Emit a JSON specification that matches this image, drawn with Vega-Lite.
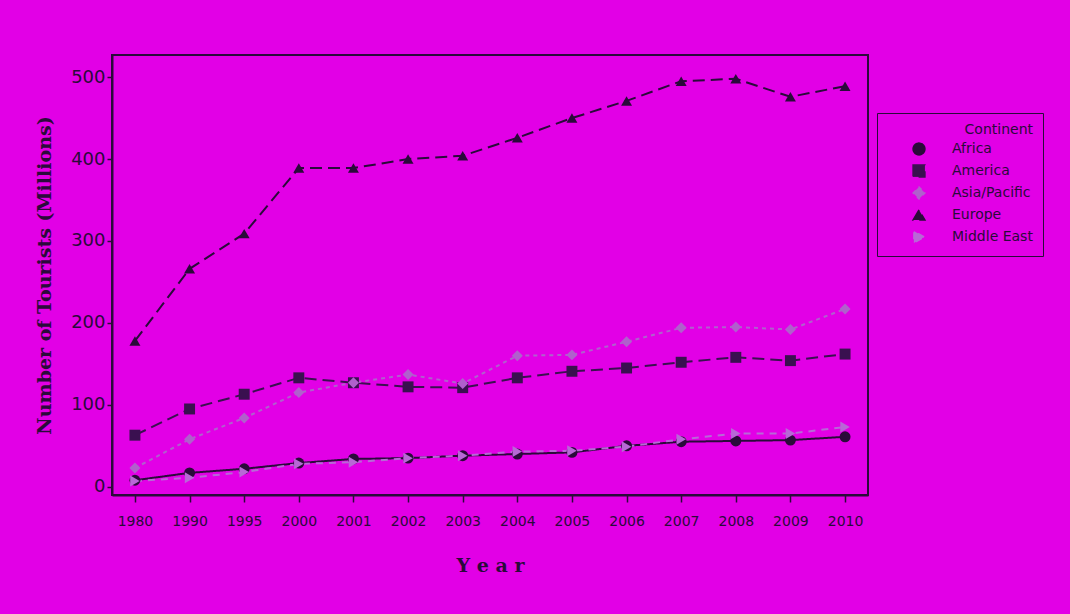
{
  "$schema": "https://vega.github.io/schema/vega-lite/v6.json",
  "width": 756,
  "height": 440,
  "autosize": {"type": "none"},
  "padding": {"left": 112, "top": 55, "right": 202, "bottom": 119},
  "background": "#e200e6",
  "config": {
    "view": {"stroke": "#2a0a3a", "strokeWidth": 2},
    "axis": {"domainColor": "#2a0a3a", "tickColor": "#2a0a3a", "labelColor": "#2a0a3a", "titleColor": "#2a0a3a", "grid": false, "domainWidth": 2}
  },
  "data": {
    "values": [
      {"year": "1980", "c": "Africa", "v": 8}, {"year": "1990", "c": "Africa", "v": 17}, {"year": "1995", "c": "Africa", "v": 22}, {"year": "2000", "c": "Africa", "v": 29}, {"year": "2001", "c": "Africa", "v": 34}, {"year": "2002", "c": "Africa", "v": 35}, {"year": "2003", "c": "Africa", "v": 38}, {"year": "2004", "c": "Africa", "v": 40}, {"year": "2005", "c": "Africa", "v": 42}, {"year": "2006", "c": "Africa", "v": 50}, {"year": "2007", "c": "Africa", "v": 55}, {"year": "2008", "c": "Africa", "v": 56}, {"year": "2009", "c": "Africa", "v": 57}, {"year": "2010", "c": "Africa", "v": 61},
      {"year": "1980", "c": "America", "v": 63}, {"year": "1990", "c": "America", "v": 95}, {"year": "1995", "c": "America", "v": 113}, {"year": "2000", "c": "America", "v": 133}, {"year": "2001", "c": "America", "v": 127}, {"year": "2002", "c": "America", "v": 122}, {"year": "2003", "c": "America", "v": 121}, {"year": "2004", "c": "America", "v": 133}, {"year": "2005", "c": "America", "v": 141}, {"year": "2006", "c": "America", "v": 145}, {"year": "2007", "c": "America", "v": 152}, {"year": "2008", "c": "America", "v": 158}, {"year": "2009", "c": "America", "v": 154}, {"year": "2010", "c": "America", "v": 162},
      {"year": "1980", "c": "Asia/Pacific", "v": 23}, {"year": "1990", "c": "Asia/Pacific", "v": 58}, {"year": "1995", "c": "Asia/Pacific", "v": 84}, {"year": "2000", "c": "Asia/Pacific", "v": 115}, {"year": "2001", "c": "Asia/Pacific", "v": 127}, {"year": "2002", "c": "Asia/Pacific", "v": 137}, {"year": "2003", "c": "Asia/Pacific", "v": 126}, {"year": "2004", "c": "Asia/Pacific", "v": 160}, {"year": "2005", "c": "Asia/Pacific", "v": 161}, {"year": "2006", "c": "Asia/Pacific", "v": 177}, {"year": "2007", "c": "Asia/Pacific", "v": 194}, {"year": "2008", "c": "Asia/Pacific", "v": 195}, {"year": "2009", "c": "Asia/Pacific", "v": 192}, {"year": "2010", "c": "Asia/Pacific", "v": 217},
      {"year": "1980", "c": "Europe", "v": 178}, {"year": "1990", "c": "Europe", "v": 266}, {"year": "1995", "c": "Europe", "v": 309}, {"year": "2000", "c": "Europe", "v": 389}, {"year": "2001", "c": "Europe", "v": 389}, {"year": "2002", "c": "Europe", "v": 400}, {"year": "2003", "c": "Europe", "v": 404}, {"year": "2004", "c": "Europe", "v": 426}, {"year": "2005", "c": "Europe", "v": 450}, {"year": "2006", "c": "Europe", "v": 471}, {"year": "2007", "c": "Europe", "v": 495}, {"year": "2008", "c": "Europe", "v": 498}, {"year": "2009", "c": "Europe", "v": 476}, {"year": "2010", "c": "Europe", "v": 489},
      {"year": "1980", "c": "Middle East", "v": 7}, {"year": "1990", "c": "Middle East", "v": 11}, {"year": "1995", "c": "Middle East", "v": 18}, {"year": "2000", "c": "Middle East", "v": 28}, {"year": "2001", "c": "Middle East", "v": 30}, {"year": "2002", "c": "Middle East", "v": 35}, {"year": "2003", "c": "Middle East", "v": 38}, {"year": "2004", "c": "Middle East", "v": 43}, {"year": "2005", "c": "Middle East", "v": 44}, {"year": "2006", "c": "Middle East", "v": 49}, {"year": "2007", "c": "Middle East", "v": 58}, {"year": "2008", "c": "Middle East", "v": 65}, {"year": "2009", "c": "Middle East", "v": 65}, {"year": "2010", "c": "Middle East", "v": 73}
    ]
  },
  "encoding": {
    "x": {
      "field": "year", "type": "ordinal",
      "scale": {"type": "point", "padding": 0.42},
      "axis": {"title": "Y e a r", "labelAngle": 0, "labelFont": "DejaVu Sans", "labelFontSize": 14, "labelPadding": 12, "tickSize": 7, "tickWidth": 1.5,
        "titleFont": "DejaVu Serif", "titleFontSize": 19, "titleFontWeight": "bold", "titlePadding": 28}
    },
    "y": {
      "field": "v", "type": "quantitative",
      "scale": {"domain": [-10, 527], "nice": false, "zero": false},
      "axis": {"title": "Number of Tourists (Millions)", "values": [0, 100, 200, 300, 400, 500], "labelFont": "DejaVu Sans", "labelFontSize": 18, "labelPadding": 2, "tickSize": 5, "tickWidth": 1.5,
        "titleFont": "DejaVu Serif", "titleFontSize": 19, "titleFontWeight": "bold", "titlePadding": 16}
    },
    "color": {
      "field": "c", "type": "nominal",
      "scale": {"domain": ["Africa", "America", "Asia/Pacific", "Europe", "Middle East"], "range": ["#2a0a3a", "#3a1050", "#b060cc", "#2a0a3a", "#b868d6"]},
      "legend": {"title": "Continent", "orient": "none", "legendX": 765, "legendY": 58, "strokeColor": "#2a0a3a", "padding": 10,
        "symbolOffset": 25, "labelOffset": 26,
        "titleFont": "DejaVu Sans", "titleFontSize": 14, "titleFontWeight": "normal", "titleColor": "#2a0a3a", "titleAnchor": "end",
        "labelFont": "DejaVu Sans", "labelFontSize": 14, "labelColor": "#2a0a3a", "symbolSize": 140, "rowPadding": 4}
    }
  },
  "layer": [
    {
      "mark": {"type": "line", "strokeWidth": 2},
      "encoding": {
        "strokeDash": {
          "field": "c", "type": "nominal",
          "scale": {"domain": ["Africa", "America", "Asia/Pacific", "Europe", "Middle East"], "range": [[1, 0], [12, 6], [4, 4], [12, 6], [7, 6]]},
          "legend": null
        }
      }
    },
    {
      "mark": {"type": "point", "filled": true, "size": 120, "opacity": 1},
      "encoding": {
        "shape": {
          "field": "c", "type": "nominal",
          "scale": {"domain": ["Africa", "America", "Asia/Pacific", "Europe", "Middle East"], "range": ["circle", "square", "diamond", "triangle-up", "triangle-right"]},
          "legend": {"title": "Continent"}
        }
      }
    }
  ]
}
